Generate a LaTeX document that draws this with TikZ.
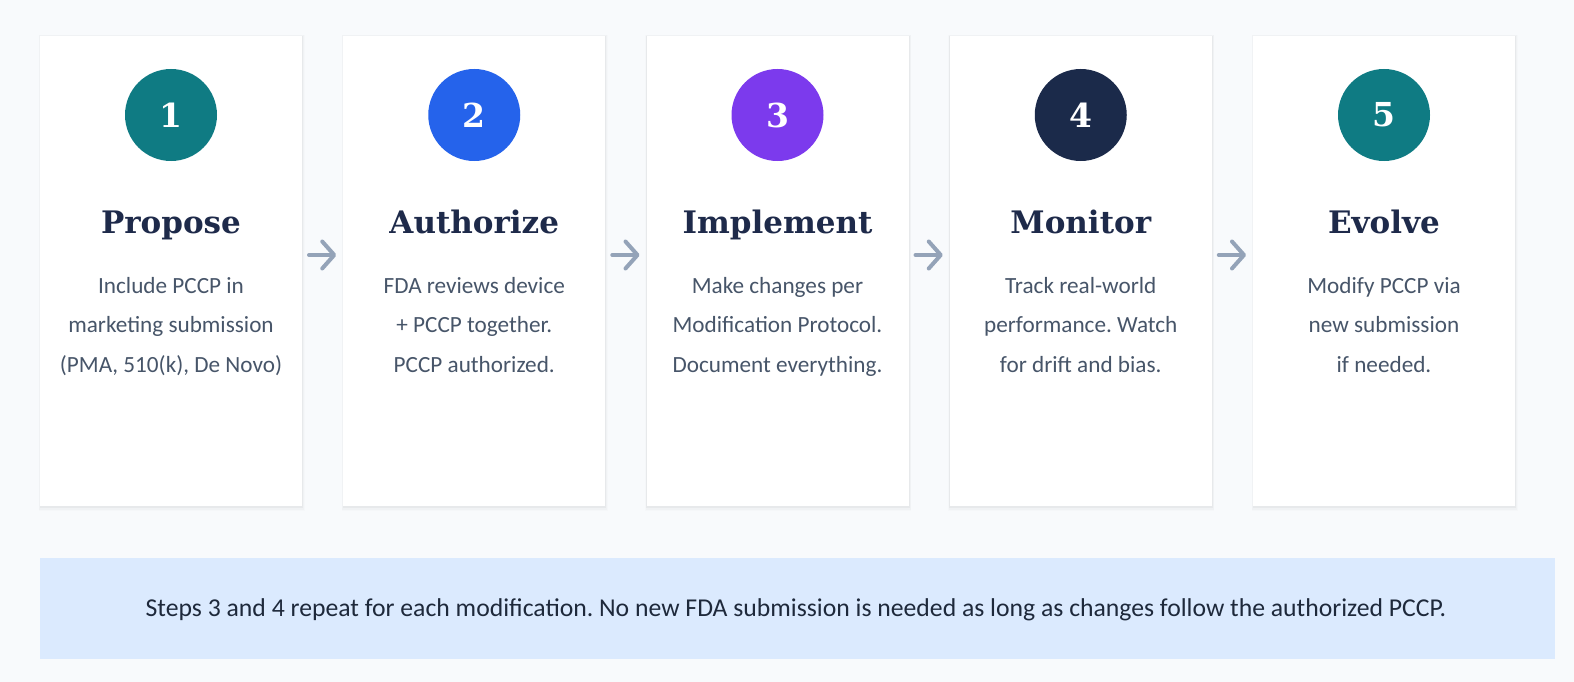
\documentclass[tikz,border=0pt]{standalone}
\usepackage{fontspec}
\setmainfont{Carlito}
\newfontfamily\headfont{DejaVu Serif}
\usetikzlibrary{arrows.meta}
\frenchspacing
\definecolor{bgc}{HTML}{F8FAFC}
\definecolor{teal}{HTML}{0F7B83}
\definecolor{blue}{HTML}{2563EB}
\definecolor{purple}{HTML}{7C3AED}
\definecolor{navy}{HTML}{1B2A4A}
\definecolor{titlec}{HTML}{1E2A4A}
\definecolor{bodyc}{HTML}{475569}
\definecolor{arrowc}{HTML}{94A3B8}
\definecolor{bannerc}{HTML}{DBEAFE}
\definecolor{bannertext}{HTML}{1E293B}
\tikzset{
  card/.style={fill=white, draw=none, minimum width=262pt, minimum height=470pt, inner sep=0pt, outer sep=0pt},
  numcircle/.style={circle, minimum size=92pt, inner sep=0pt, text=white, font=\headfont\bfseries\fontsize{33}{33}\selectfont},
  steptitle/.style={anchor=base, text=titlec, font=\headfont\bfseries\fontsize{31}{31}\selectfont, inner sep=0pt},
  bodyline/.style={anchor=base, text=bodyc, font=\fontsize{23.2}{23.2}\selectfont, inner sep=0pt},
  flowarrow/.style={draw=arrowc, line width=4pt, line cap=round, -{Straight Barb[length=12pt,width=27pt,line cap=round,line join=round]}},
}
\newcommand\stepcard[8]{%
  % #1 index, #2 center x, #3 colour, #4 number, #5 title, #6-#8 lines
  \fill[black, opacity=0.012] (#2-132.5,35) rectangle (#2+133.5,511);
  \fill[black, opacity=0.02] (#2-132,35.5) rectangle (#2+133,509.5);
  \fill[black, opacity=0.035] (#2-131.5,36) rectangle (#2+132,508);
  \node[card] (c#1) at (#2,271) {};
  \node[numcircle, fill=#3] (n#1) at (#2,115) {#4};
  \node[steptitle] (t#1) at (#2,233) {#5};
  \node[bodyline] (la#1) at (#2,293) {#6};
  \node[bodyline] (lb#1) at (#2,332.5) {#7};
  \node[bodyline] (lc#1) at (#2,372) {#8};
}
\begin{document}
\begin{tikzpicture}[x=1pt,y=-1pt]
\fill[bgc] (0,0) rectangle (1574,682);
\useasboundingbox (0,0) rectangle (1574,682);
\stepcard{1}{171}{teal}{1}{Propose}{Include PCCP in}{marketing submission}{(PMA, 510(k), De Novo)}
\stepcard{2}{474.25}{blue}{2}{Authorize}{FDA reviews device}{+ PCCP together.}{PCCP authorized.}
\stepcard{3}{777.5}{purple}{3}{Implement}{Make changes per}{Modification Protocol.}{Document everything.}
\stepcard{4}{1080.75}{navy}{4}{Monitor}{Track real-world}{performance. Watch}{for drift and bias.}
\stepcard{5}{1384}{teal}{5}{Evolve}{Modify PCCP via}{new submission}{if needed.}
\foreach \a/\b in {1/2,2/3,3/4,4/5}{
  \draw[flowarrow] ([xshift=7pt,yshift=16pt]c\a.east) -- ([xshift=-7pt,yshift=16pt]c\b.west);
}
\node[fill=bannerc, minimum width=1515pt, minimum height=101pt, inner sep=0pt] (banner) at (797.5,608) {};
\node[anchor=base, text=bannertext, font=\fontsize{25.7}{25.7}\selectfont, inner sep=0pt] (note) at (796,616) {Steps 3 and 4 repeat for each modification. No new FDA submission is needed as long as changes follow the authorized PCCP.};
\end{tikzpicture}
\end{document}
